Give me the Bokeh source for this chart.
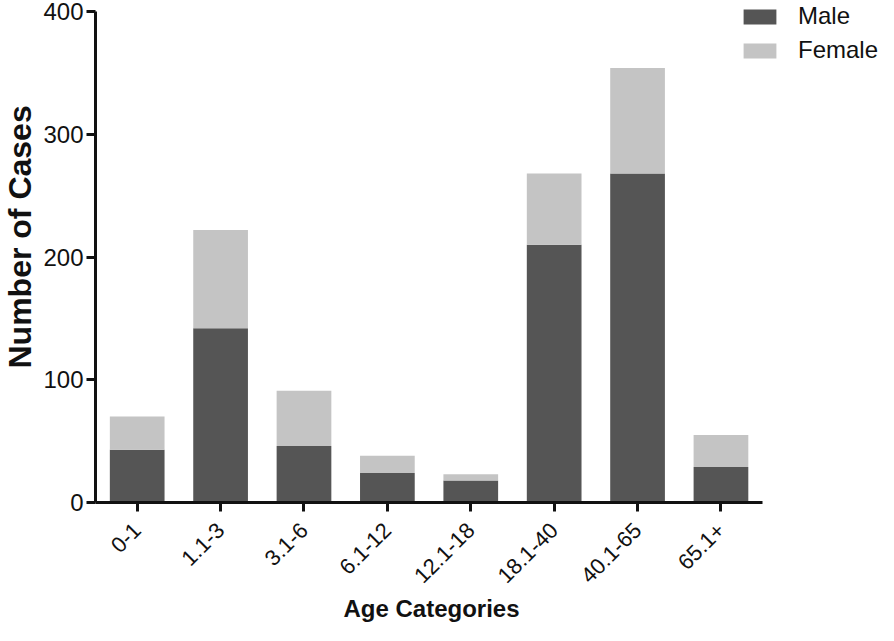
from bokeh.plotting import figure
from bokeh.models import ColumnDataSource, Range1d, FixedTicker, Legend, LegendItem, Title
from bokeh.embed import file_html
from bokeh.resources import INLINE
import math

categories = ["0-1", "1.1-3", "3.1-6", "6.1-12", "12.1-18", "18.1-40", "40.1-65", "65.1+"]
male = [43, 142, 46, 24, 18, 210, 268, 29]
female = [27, 80, 45, 14, 5, 58, 86, 26]
y_ticks = [0, 100, 200, 300, 400]

MALE_COLOR = "#555555"
FEMALE_COLOR = "#c4c4c4"
FONT = "Liberation Sans"
INK = "#111111"

# layout (pixels)
W, H = 878, 625
LEFT, BOTTOM, TOP = 94, 123, 0
AXIS_W = 668            # drawn length of the x axis
AXIS_TOP_GAP = 11       # gap between frame top and the 400 tick
frame_w = W - LEFT
frame_h = H - BOTTOM - TOP

idx = list(range(len(categories)))
n = len(categories)
x_end = -0.5 + n * frame_w / AXIS_W
y_end = 400 * frame_h / (frame_h - AXIS_TOP_GAP)

source = ColumnDataSource(dict(x=idx, cat=categories, male=male, female=female))

p = figure(
    x_range=Range1d(-0.5, x_end),
    y_range=Range1d(0, y_end),
    width=W, height=H,
    output_backend="svg", toolbar_location=None,
    min_border_left=LEFT, min_border_right=0, min_border_top=TOP, min_border_bottom=BOTTOM,
)

r = p.vbar_stack(["male", "female"], x="x", width=0.656, source=source,
                 color=[MALE_COLOR, FEMALE_COLOR], line_color=None)

legend = Legend(items=[LegendItem(label="Male", renderers=[r[0]]),
                       LegendItem(label="Female", renderers=[r[1]])],
                location=(644, 438), padding=0, margin=0, spacing=6,
                glyph_width=41, glyph_height=19, label_standoff=18,
                label_text_font=FONT, label_text_font_size="24px",
                label_text_color=INK,
                border_line_color=None, background_fill_alpha=0)
p.add_layout(legend, "center")

p.outline_line_color = None
p.xgrid.grid_line_color = None
p.ygrid.grid_line_color = None

for ax in (p.xaxis[0], p.yaxis[0]):
    ax.axis_line_width = 3
    ax.axis_line_color = INK
    ax.major_tick_line_width = 3
    ax.major_tick_line_color = INK
    ax.major_tick_out = 9
    ax.major_tick_in = 0
    ax.minor_tick_line_color = None
    ax.major_label_text_font = FONT
    ax.major_label_text_color = INK

p.yaxis[0].ticker = FixedTicker(ticks=y_ticks)
p.yaxis[0].bounds = (0, 400)
p.yaxis[0].major_label_text_font_size = "24px"
p.yaxis[0].major_label_standoff = 3

p.xaxis[0].ticker = FixedTicker(ticks=idx)
p.xaxis[0].major_label_overrides = {i: c for i, c in zip(idx, categories)}
p.xaxis[0].bounds = (-0.5, n - 0.5)
p.xaxis[0].major_label_text_font_size = "22px"
p.xaxis[0].major_label_orientation = math.pi / 4
p.xaxis[0].major_label_standoff = 15

x_title = Title(text="Age Categories", align="left", offset=248,
                text_font=FONT, text_font_style="bold", text_font_size="24px",
                text_color=INK, standoff=0)
p.add_layout(x_title, "below")

y_title = Title(text="Number of Cases", align="left", offset=134, vertical_align="top",
                text_font=FONT, text_font_style="bold", text_font_size="32px",
                text_color=INK, standoff=2)
p.add_layout(y_title, "left")

open("out.html", "w").write(file_html(p, INLINE))
